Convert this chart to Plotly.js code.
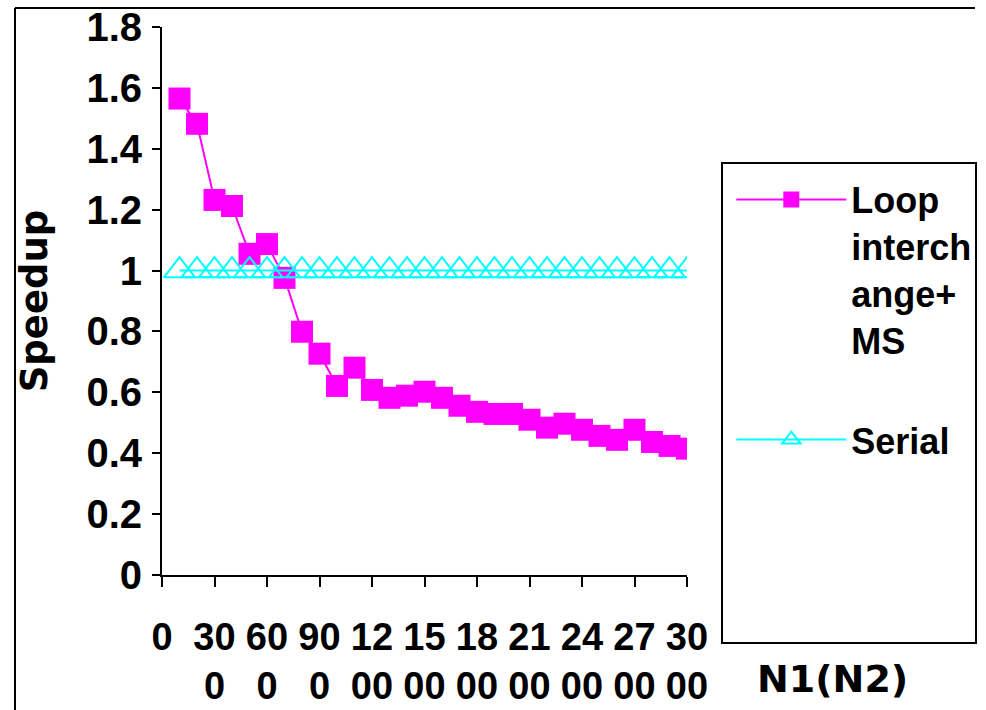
<!DOCTYPE html>
<html>
<head>
<meta charset="utf-8">
<script src="https://cdn.plot.ly/plotly-3.0.1.min.js"></script>
<style>
  html, body { margin: 0; padding: 0; background: #ffffff; }
  #chart { width: 986px; height: 710px; }
</style>
</head>
<body>
<div id="chart"></div>
<script>
// ---- data ----
var sizes = [100, 200, 300, 400, 500, 600, 700, 800, 900, 1000,
             1100, 1200, 1300, 1400, 1500, 1600, 1700, 1800, 1900, 2000,
             2100, 2200, 2300, 2400, 2500, 2600, 2700, 2800, 2900, 3000];
var loopInterchangeMS = [1.565, 1.482, 1.232, 1.212, 1.055, 1.087, 0.976, 0.799, 0.727, 0.621,
                         0.681, 0.608, 0.582, 0.589, 0.602, 0.582, 0.556, 0.536, 0.529, 0.529,
                         0.510, 0.484, 0.497, 0.477, 0.457, 0.444, 0.477, 0.437, 0.424, 0.415];
var serial = [1, 1, 1, 1, 1, 1, 1, 1, 1, 1,
              1, 1, 1, 1, 1, 1, 1, 1, 1, 1,
              1, 1, 1, 1, 1, 1, 1, 1, 1, 1];
var seriesNames = ["Loop<br>interch<br>ange+<br>MS", "Serial"];
var xTickVals = [0, 300, 600, 900, 1200, 1500, 1800, 2100, 2400, 2700, 3000];
var xTickText = ["0", "30<br>0", "60<br>0", "90<br>0", "12<br>00", "15<br>00",
                 "18<br>00", "21<br>00", "24<br>00", "27<br>00", "30<br>00"];
var yTickVals = [0, 0.2, 0.4, 0.6, 0.8, 1, 1.2, 1.4, 1.6, 1.8];
var yTickText = ["0", "0.2", "0.4", "0.6", "0.8", "1", "1.2", "1.4", "1.6", "1.8"];
var yTitle = "Speedup";
var xTitle = "N1(N2)";

// ---- chart ----
var sansBold = "Liberation Sans, Arial, sans-serif";

var traces = [
  {
    x: sizes, y: loopInterchangeMS, name: seriesNames[0], legendgroup: "g1",
    type: "scatter", mode: "lines+markers",
    line: { color: "#FF00FF", width: 2 },
    marker: { symbol: "square", size: 22, color: "#FF00FF", line: { width: 0 } }
  },
  {
    x: sizes, y: serial, name: seriesNames[1], legendgroup: "g2",
    type: "scatter", mode: "lines+markers",
    line: { color: "#00FFFF", width: 2 },
    marker: { symbol: "triangle-up-open", size: 27, color: "#00FFFF", line: { width: 2, color: "#00FFFF" } }
  }
];

var layout = {
  width: 986, height: 710,
  paper_bgcolor: "#ffffff", plot_bgcolor: "#ffffff",
  margin: { l: 162, r: 299, t: 27, b: 135, pad: 0, autoexpand: false },
  showlegend: true,
  font: { family: sansBold, color: "#000000" },
  xaxis: {
    range: [0, 3000], autorange: false,
    tickmode: "array", tickvals: xTickVals, ticktext: xTickText,
    tickangle: 0,
    ticks: "outside", ticklen: 10, tickwidth: 2, tickcolor: "#000000",
    showline: true, linecolor: "#000000", linewidth: 2,
    showgrid: false, zeroline: false,
    ticklabelstandoff: 17,
    tickfont: { family: sansBold, size: 38, color: "#000000", weight: "bold" }
  },
  yaxis: {
    range: [0, 1.8], autorange: false,
    tickmode: "array", tickvals: yTickVals, ticktext: yTickText,
    ticks: "outside", ticklen: 8, tickwidth: 2, tickcolor: "#000000",
    showline: true, linecolor: "#000000", linewidth: 2,
    showgrid: false, zeroline: false,
    ticklabelstandoff: 2,
    tickfont: { family: sansBold, size: 40, color: "#000000", weight: "bold" },
    title: { text: yTitle, standoff: 27,
             font: { family: "DejaVu Sans, sans-serif", size: 37, color: "#000000", weight: "bold" } }
  },
  legend: {
    x: 1.0844, y: 0.74, xanchor: "left", yanchor: "top",
    bgcolor: "rgba(0,0,0,0)", borderwidth: 0,
    valign: "top", itemwidth: 110, itemclick: false,
    tracegroupgap: 50,
    font: { family: sansBold, size: 36, color: "#000000", weight: "bold" }
  },
  annotations: [
    { text: xTitle, xref: "paper", yref: "paper", x: 1.2762, y: -0.19,
      xanchor: "center", yanchor: "middle", showarrow: false,
      font: { family: "DejaVu Sans, sans-serif", size: 38, color: "#000000", weight: "bold" } }
  ],
  shapes: [
    // legend frame
    { type: "rect", xref: "paper", yref: "paper", x0: 1.0667, x1: 1.5505, y0: -0.1241, y1: 0.7518,
      line: { color: "#000000", width: 2 }, fillcolor: "rgba(0,0,0,0)", layer: "below" },
    // outer chart frame (top and left edges visible)
    { type: "line", xref: "paper", yref: "paper", x0: -0.28, x1: 1.5486, y0: 1.0347, y1: 1.0347,
      line: { color: "#000000", width: 2 } },
    { type: "line", xref: "paper", yref: "paper", x0: -0.28, x1: -0.28, y0: 1.0347, y1: -0.3,
      line: { color: "#000000", width: 2 } }
  ]
};

Plotly.newPlot("chart", traces, layout, { displayModeBar: false, staticPlot: true });
</script>
</body>
</html>
